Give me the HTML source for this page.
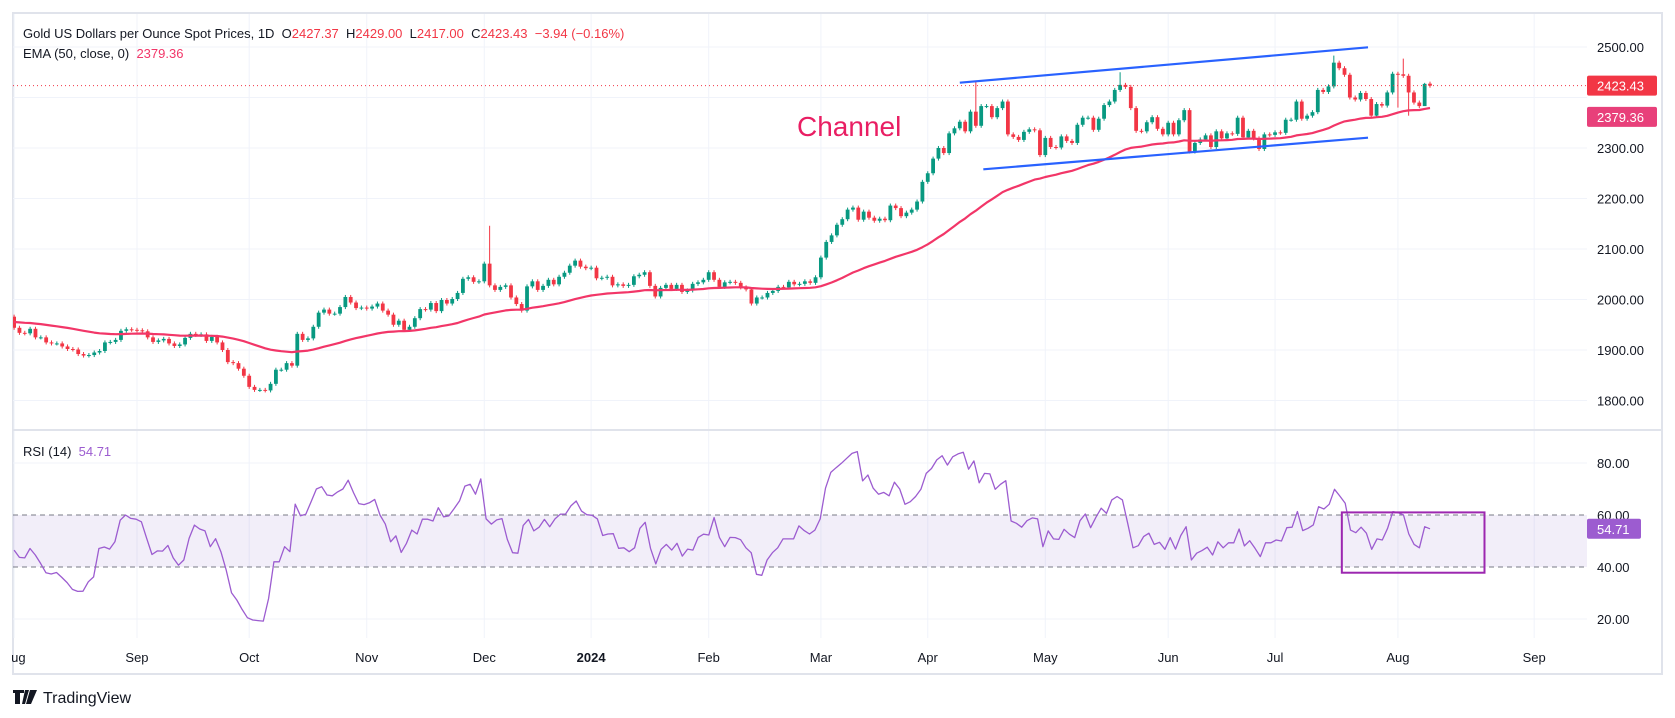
<!DOCTYPE html>
<html><head><meta charset="utf-8">
<style>
html,body{margin:0;padding:0;background:#fff;}
svg{display:block;font-family:"Liberation Sans",sans-serif;}
</style></head>
<body>
<svg id="chart" width="1675" height="718" viewBox="0 0 1675 718" xmlns="http://www.w3.org/2000/svg">
<defs>
<clipPath id="pclip"><rect x="13" y="13" width="1574" height="417"/></clipPath>
<clipPath id="rclip"><rect x="13" y="431" width="1574" height="207"/></clipPath>
</defs>
<rect x="13" y="13" width="1649" height="661" fill="#fff" stroke="#e0e3eb" stroke-width="2"/>
<g id="grid"></g>
<line x1="13" y1="430" x2="1662" y2="430" stroke="#e0e3eb" stroke-width="2"/>
<g id="rsiband"></g>
<g id="price" clip-path="url(#pclip)"></g>
<g id="rsi" clip-path="url(#rclip)"></g>
<g id="axes"></g>
<text x="23" y="38" font-size="13" fill="#131722">Gold US Dollars per Ounce Spot Prices, 1D&#160; O<tspan fill="#f23645">2427.37</tspan>&#160; H<tspan fill="#f23645">2429.00</tspan>&#160; L<tspan fill="#f23645">2417.00</tspan>&#160; C<tspan fill="#f23645">2423.43</tspan>&#160; <tspan fill="#f23645">−3.94 (−0.16%)</tspan></text>
<text x="23" y="58" font-size="13" fill="#131722">EMA (50, close, 0)&#160; <tspan fill="#f23668">2379.36</tspan></text>
<text x="23" y="456" font-size="13" fill="#131722">RSI (14)&#160; <tspan fill="#9c5cd0">54.71</tspan></text>
<text x="797" y="136" font-size="28" fill="#e91e63">Channel</text>
<g>
<path d="M13 690h11v3h-4v11h-5v-11h-2z M25 690h4l-4 14h-3z M30 690h7l-6 14h-5z" fill="#131722"/>
<text x="43" y="703" font-size="16" fill="#131722">TradingView</text>
</g>
</svg>
<script>
const closes=[
1944,1934,1933,1942,1925,1925,1915,1913,1913,1907,1902,1901,1892,1889,1890,1895,1898,1915,1916,1920,1938,1941,1940,
1939,1937,1925,1916,1919,1922,1913,1908,1911,1924,1932,1930,1931,1918,1926,1915,1900,1876,1874,1863,1849,
1827,1821,1821,1820,1833,1861,1861,1874,1869,1932,1920,1923,1946,1974,1980,1972,1972,1985,2005,1994,1983,1984,
1982,1986,1992,1978,1970,1950,1958,1940,1946,1963,1981,1980,1993,1977,1999,1992,2001,2013,2041,2044,2035,2036,
2071,2028,2019,2025,2028,2004,1991,1978,2026,2036,2019,2027,2039,2030,2045,2053,2067,2077,2065,2062,
2063,2042,2043,2045,2028,2030,2027,2029,2046,2049,2054,2027,2006,2023,2029,2021,2029,2015,2018,2031,2034,2039,
2054,2039,2025,2034,2035,2033,2024,2020,1992,2004,2004,2013,2017,2025,2024,2035,2030,2031,2036,2033,2044,
2083,2114,2127,2148,2159,2178,2182,2158,2174,2162,2156,2160,2157,2186,2181,2165,2172,2178,2194,2233,
2250,2279,2300,2290,2329,2339,2352,2333,2372,2344,2383,2383,2361,2379,2392,2327,2322,2316,2332,2337,2335,2286,
2320,2302,2301,2323,2314,2310,2346,2360,2360,2336,2358,2385,2392,2415,2425,2421,2379,2334,2333,2351,2361,2338,2327,
2350,2327,2355,2375,2293,2310,2317,2325,2302,2333,2319,2329,2328,2360,2321,2334,2319,2298,2327,2326,
2331,2330,2356,2356,2392,2358,2364,2371,2415,2411,2422,2469,2458,2445,2400,2396,2409,2397,2364,2387,2384,2410,2447,
2446,2443,2410,2390,2383,2427,2423.43];
const firstOpen=1966;
const lastOpen=2427.37;
const highSpikes=[[89,2146],[180,2431],[207,2450],[247,2483],[260,2477],[264,2429]];
const lowSpikes=[[261,2364],[259,2380],[264,2417]];
const rsiValues=[46.5,43.7,43.5,47.1,44.6,41.4,37.8,37.3,37.9,36,34,31.4,30.6,30.7,34.3,36.2,47.1,47.7,46.9,49.7,58,60,58.7,58.4,57.4,51,44.8,46.2,46.1,48.3,43.5,40.7,42.7,51,56.1,54.6,53.9,47.8,50.9,45.9,38.8,30.1,27.3,23.7,20.5,19.6,19.4,19.2,27.9,42,42,47.8,45.9,64.2,59.7,60.3,65.1,70,70.9,67.7,67.4,68.9,70,73.4,68.6,64.4,64,64.7,66,60,56.5,49.7,52,45.6,49.1,54.2,52.7,58.4,58.4,57.7,62.8,59.3,59.7,62.5,65.5,71.1,71.8,68,73.9,
58.5,56.5,58.1,58.6,50.6,45.5,45.3,56,58.3,53.9,55.3,58.3,55.5,58.5,60.3,60.4,63.5,65.4,61.5,60.1,59.9,58.5,52.1,52.7,52.8,47.2,47.4,45.9,47.4,54.9,57.2,47.2,41.2,46.8,48.7,46.5,49.1,44.2,46.9,46.5,51.4,52.6,52.3,59,51.4,47.8,51.4,51.3,50.5,47.4,45.5,37.2,36.8,42.7,45.5,47.4,50.8,50.8,50.8,55.8,54,52.7,54.2,58.5,70.3,76.4,78.2,79.9,81.8,83.7,84.4,73.1,75.4,70.3,68,68.7,67.4,72.6,70,64.1,65.1,67.1,69.9,76,77.9,81.2,82.8,79.2,82.4,83.5,
84.1,77.6,80.8,72.4,76,75.8,69.9,71.8,73.2,57.7,56.8,55.3,57.8,58.9,58.5,47.8,53.9,50.8,50.6,54.5,52.6,51.3,57.8,60.4,55.1,59.1,62.6,60.6,65.8,67.1,65.8,56.8,47.4,48.2,51.7,53,48.7,49.5,46.8,51.3,46.9,52.1,55.5,42.7,45.3,46.3,47.6,44.6,49.7,47.4,49.3,49.3,54.6,48.1,50.1,47.2,44,49.3,49.3,50.4,50,55.1,55.3,61.3,54,54.9,56.2,63.2,62.3,64.1,69.9,67.3,64.5,54.2,53.2,55.3,53,46.8,50.8,50.4,54.9,61.3,60.9,60,52.7,48.7,47.4,55.5,54.71];
const priceTicks=[1800,1900,2000,2100,2200,2300,2400,2500];
const priceTickLabels=["1800.00","1900.00","2000.00","2100.00","2200.00","2300.00","2400.00","2500.00"];
const rsiTicks=[20,40,60,80];
const rsiTickLabels=["20.00","40.00","60.00","80.00"];
const monthIdx=[0,23,44,66,88,108,130,151,171,193,216,236,259,284.5];
const monthLabels=["Aug","Sep","Oct","Nov","Dec","2024","Feb","Mar","Apr","May","Jun","Jul","Aug","Sep"];
const channelUpper=[[177,2429.3],[253.4,2499.4]];
const channelLower=[[181.4,2257.8],[253.4,2320.4]];
const emaSeed=1956;
const emaPeriod=50;
const lastPrice=2423.43;
const emaLast=2379.36;
const rsiLast=54.71;
const rsiBox=[[248.5,61],[275.2,37.8]];

const NS="http://www.w3.org/2000/svg";
const X0=14.1,DX=5.343;
function xOf(i){return X0+i*DX;}
function yP(p){return 47+(2500-p)*0.505;}
function yR(r){return 463+(80-r)*2.6;}
function mk(tag,attrs,parent){const e=document.createElementNS(NS,tag);for(const k in attrs)e.setAttribute(k,attrs[k]);parent.appendChild(e);return e;}

const grid=document.getElementById('grid');
const axes=document.getElementById('axes');
const price=document.getElementById('price');
const rsi=document.getElementById('rsi');
const band=document.getElementById('rsiband');

priceTicks.forEach((p,k)=>{
  const l=mk('line',{x1:13,x2:1587,y1:yP(p),y2:yP(p),stroke:'#f0f3fa','stroke-width':1},grid);
  
  
  if(p===2400)return;
  const t=mk('text',{x:1597,y:yP(p)+5,'font-size':13,fill:'#131722'},axes);
  t.textContent=priceTickLabels[k];
  
  
});
rsiTicks.forEach((r,k)=>{
  if(r===20||r===80){
    const l=mk('line',{x1:13,x2:1587,y1:yR(r),y2:yR(r),stroke:'#f0f3fa','stroke-width':1},grid);
    
    
  }
  const t=mk('text',{x:1597,y:yR(r)+5,'font-size':13,fill:'#131722'},axes);
  t.textContent=rsiTickLabels[k];
  
  
});
monthIdx.forEach((m,k)=>{
  const x=xOf(m);
  const l=mk('line',{x1:x,x2:x,y1:14,y2:638,stroke:'#f0f3fa','stroke-width':1},grid);
  
  
  const t=mk('text',{x:x,y:662,'font-size':13,fill:'#131722','text-anchor':'middle','font-weight':monthLabels[k]==='2024'?'bold':'normal'},axes);
  t.textContent=monthLabels[k];
  
  
});
// cover left clipping of first label
const cov=mk('rect',{x:0,y:640,width:12,height:30,fill:'#fff'},axes);



// RSI band
const br=mk('rect',{x:13,y:yR(60),width:1574,height:yR(40)-yR(60),fill:'rgba(126,87,194,0.1)'},band);


[60,40].forEach(r=>{
  const l=mk('line',{x1:13,x2:1587,y1:yR(r),y2:yR(r),stroke:'#787b86','stroke-width':1,'stroke-dasharray':'5 4'},band);
  
  
});

// candles
const hiMap={},loMap={};
highSpikes.forEach(h=>hiMap[h[0]]=h[1]);
lowSpikes.forEach(h=>loMap[h[0]]=h[1]);
closes.forEach((c,i)=>{
  const o=i===0?firstOpen:(i===closes.length-1?lastOpen:closes[i-1]);
  const up=c>=o;
  const col=up?'#089981':'#f23645';
  const hi=hiMap[i]!==undefined?hiMap[i]:Math.max(o,c)+4;
  const lo=loMap[i]!==undefined?loMap[i]:Math.min(o,c)-4;
  const x=xOf(i);
  const g=mk('g',{},price);
  
  
  mk('line',{x1:x,x2:x,y1:yP(hi),y2:yP(lo),stroke:col,'stroke-width':1},g);
  const top=yP(Math.max(o,c)),bot=yP(Math.min(o,c));
  mk('rect',{x:x-1.9,y:top,width:3.8,height:Math.max(1,bot-top),fill:col},g);
});

// EMA
let e=emaSeed;const a=2/(emaPeriod+1);let pts=[];
closes.forEach((c,i)=>{e=e+a*(c-e);pts.push(xOf(i).toFixed(1)+','+yP(e).toFixed(1));});
const ema=mk('polyline',{points:pts.join(' '),fill:'none',stroke:'#f23668','stroke-width':2.2,'stroke-linejoin':'round'},price);



// channel lines
[channelUpper,channelLower].forEach((ch,k)=>{
  const l=mk('line',{x1:xOf(ch[0][0]),y1:yP(ch[0][1]),x2:xOf(ch[1][0]),y2:yP(ch[1][1]),stroke:'#2962ff','stroke-width':2.2},price);
  
  
});

// last price dotted line
const pl=mk('line',{x1:13,x2:1587,y1:yP(lastPrice),y2:yP(lastPrice),stroke:'#f23645','stroke-width':1,'stroke-dasharray':'1 3'},price);



// RSI line
const n=rsiValues.length;
const rx=i=>X0+i*(1430-X0)/(n-1);
const rp=rsiValues.map((r,i)=>rx(i).toFixed(1)+','+yR(r).toFixed(1)).join(' ');
const rl=mk('polyline',{points:rp,fill:'none',stroke:'#9c5cd0','stroke-width':1.3,'stroke-linejoin':'round'},rsi);


const rb=mk('rect',{x:xOf(rsiBox[0][0]),y:yR(rsiBox[0][1]),width:xOf(rsiBox[1][0])-xOf(rsiBox[0][0]),height:yR(rsiBox[1][1])-yR(rsiBox[0][1]),fill:'none',stroke:'#9c27b0','stroke-width':2},rsi);



// axis badges
function badge(yc,w,txt,col,name){
  const g=mk('g',{},axes);
  
  
  mk('rect',{x:1587,y:yc-10,width:w,height:20,rx:2,fill:col},g);
  const t=mk('text',{x:1597,y:yc+5,'font-size':13,fill:'#fff'},g);
  t.textContent=txt;
}
badge(yP(lastPrice),70,lastPrice.toFixed(2),'#f23645','last-price-badge');
badge(yP(emaLast)+9,70,emaLast.toFixed(2),'#e8407a','ema-value-badge');
badge(yR(rsiLast),54,rsiLast.toFixed(2),'#9c5cd0','rsi-value-badge');
</script>
</body></html>
